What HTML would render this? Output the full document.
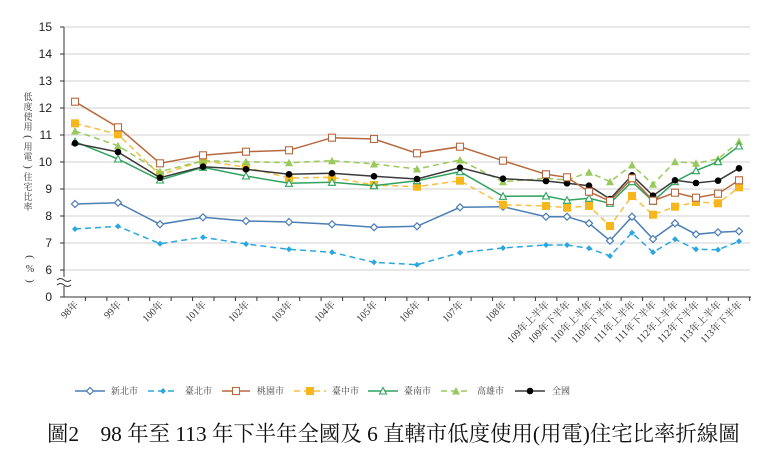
<!DOCTYPE html>
<html><head><meta charset="utf-8"><style>
html,body{margin:0;padding:0;background:#fff;}
svg{display:block;font-family:"Liberation Serif","Noto Serif CJK SC","Noto Sans CJK TC",serif;}
</style></head><body>
<svg width="780" height="461" viewBox="0 0 780 461" xmlns="http://www.w3.org/2000/svg">
<defs>
<marker id="mA" markerUnits="userSpaceOnUse" markerWidth="10" markerHeight="10" refX="5" refY="5" overflow="visible"><path d="M5 1.5L8.5 5L5 8.5L1.5 5Z" fill="#fff" stroke="#4a7eb5" stroke-width="1.2"/></marker>
<marker id="mB" markerUnits="userSpaceOnUse" markerWidth="10" markerHeight="10" refX="5" refY="5" overflow="visible"><path d="M5 2L8 5L5 8L2 5Z" fill="#2aa7de"/></marker>
<marker id="mC" markerUnits="userSpaceOnUse" markerWidth="10" markerHeight="10" refX="5" refY="5" overflow="visible"><rect x="1.5" y="1.5" width="7" height="7" fill="#fff" stroke="#b8693f" stroke-width="1.1"/></marker>
<marker id="mD" markerUnits="userSpaceOnUse" markerWidth="10" markerHeight="10" refX="5" refY="5" overflow="visible"><rect x="1" y="1" width="8" height="8" fill="#f6b61c"/></marker>
<marker id="mE" markerUnits="userSpaceOnUse" markerWidth="10" markerHeight="10" refX="5" refY="5" overflow="visible"><path d="M5 1.5L8.5 8L1.5 8Z" fill="#fff" stroke="#2fa35e" stroke-width="1.1"/></marker>
<marker id="mF" markerUnits="userSpaceOnUse" markerWidth="10" markerHeight="10" refX="5" refY="5" overflow="visible"><path d="M5 1L9 8.5L1 8.5Z" fill="#98c95a"/></marker>
<marker id="mG" markerUnits="userSpaceOnUse" markerWidth="10" markerHeight="10" refX="5" refY="5" overflow="visible"><circle cx="5" cy="5" r="3.3" fill="#000"/></marker>
</defs>
<g stroke="#d9d9d9" stroke-width="1.2">
<line x1="64" x2="750" y1="27" y2="27"/><line x1="64" x2="750" y1="54" y2="54"/><line x1="64" x2="750" y1="81" y2="81"/><line x1="64" x2="750" y1="108" y2="108"/><line x1="64" x2="750" y1="135" y2="135"/><line x1="64" x2="750" y1="162" y2="162"/><line x1="64" x2="750" y1="189" y2="189"/><line x1="64" x2="750" y1="216" y2="216"/><line x1="64" x2="750" y1="243" y2="243"/><line x1="64" x2="750" y1="270" y2="270"/>
</g>
<g stroke="#333" stroke-width="1">
<line x1="64" y1="27" x2="64" y2="297"/><line x1="64" y1="297" x2="751" y2="297"/>
<line x1="60" x2="64" y1="27" y2="27"/><line x1="60" x2="64" y1="54" y2="54"/><line x1="60" x2="64" y1="81" y2="81"/><line x1="60" x2="64" y1="108" y2="108"/><line x1="60" x2="64" y1="135" y2="135"/><line x1="60" x2="64" y1="162" y2="162"/><line x1="60" x2="64" y1="189" y2="189"/><line x1="60" x2="64" y1="216" y2="216"/><line x1="60" x2="64" y1="243" y2="243"/><line x1="60" x2="64" y1="270" y2="270"/><line x1="60" x2="64" y1="297" y2="297"/>
</g>
<g stroke="#333" stroke-width="1">
<path d="M85.4 297v4M106.9 297v4M128.3 297v4M149.7 297v4M171.1 297v4M192.6 297v4M214 297v4M235.4 297v4M256.9 297v4M278.3 297v4M299.7 297v4M321.1 297v4M342.6 297v4M364 297v4M385.4 297v4M406.9 297v4M428.3 297v4M449.7 297v4M471.1 297v4M492.6 297v4M514 297v4M535.4 297v4M556.9 297v4M578.3 297v4M599.7 297v4M621.1 297v4M642.6 297v4M664 297v4M685.4 297v4M706.9 297v4M728.3 297v4M749.7 297v4"/>
</g>
<rect x="57" y="277" width="14" height="9" fill="#fff"/>
<path d="M57 280q3.5-3 7 0t7 0M57 285q3.5-3 7 0t7 0" fill="none" stroke="#333" stroke-width="1"/>
<g font-size="12" fill="#222" text-anchor="end" font-family="Liberation Sans,sans-serif">
<text x="52" y="31">15</text><text x="52" y="58">14</text><text x="52" y="85">13</text><text x="52" y="112">12</text><text x="52" y="139">11</text><text x="52" y="166">10</text><text x="52" y="193">9</text><text x="52" y="220">8</text><text x="52" y="247">7</text><text x="52" y="274">6</text><text x="52" y="301">0</text>
</g>
<g font-size="9" fill="#333" text-anchor="middle">
<text x="28" y="100">低</text><text x="28" y="110">度</text><text x="28" y="120">使</text><text x="28" y="130">用</text><text x="28" y="140" font-size="11" transform="rotate(90 28 137)">(</text><text x="28" y="150">用</text><text x="28" y="160">電</text><text x="28" y="170" font-size="11" transform="rotate(90 28 167)">)</text><text x="28" y="180">住</text><text x="28" y="190">宅</text><text x="28" y="200">比</text><text x="28" y="210">率</text>
<text x="30" y="260" font-size="11" transform="rotate(90 30 257)">(</text><text x="30" y="272" font-size="10">%</text><text x="30" y="284" font-size="11" transform="rotate(90 30 281)">)</text>
</g>
<g font-size="10" fill="#333" text-anchor="end">
<text transform="translate(79,305) rotate(-45)">98年</text>
<text transform="translate(122,305) rotate(-45)">99年</text>
<text transform="translate(164,305) rotate(-45)">100年</text>
<text transform="translate(207,305) rotate(-45)">101年</text>
<text transform="translate(250,305) rotate(-45)">102年</text>
<text transform="translate(293,305) rotate(-45)">103年</text>
<text transform="translate(336,305) rotate(-45)">104年</text>
<text transform="translate(378,305) rotate(-45)">105年</text>
<text transform="translate(421,305) rotate(-45)">106年</text>
<text transform="translate(464,305) rotate(-45)">107年</text>
<text transform="translate(507,305) rotate(-45)">108年</text>
<text transform="translate(550,305) rotate(-45)">109年上半年</text>
<text transform="translate(571,305) rotate(-45)">109年下半年</text>
<text transform="translate(593,305) rotate(-45)">110年上半年</text>
<text transform="translate(614,305) rotate(-45)">110年下半年</text>
<text transform="translate(636,305) rotate(-45)">111年上半年</text>
<text transform="translate(657,305) rotate(-45)">111年下半年</text>
<text transform="translate(679,305) rotate(-45)">112年上半年</text>
<text transform="translate(700,305) rotate(-45)">112年下半年</text>
<text transform="translate(722,305) rotate(-45)">113年上半年</text>
<text transform="translate(743,305) rotate(-45)">113年下半年</text>
</g>
<g fill="none" stroke-width="1.5">
<polyline stroke="#2aa7de" stroke-dasharray="6,4" marker-start="url(#mB)" marker-mid="url(#mB)" marker-end="url(#mB)" points="75,229 118,226.3 160,243.7 203,237.3 246,244 289,249.3 332,252.3 374,262.3 417,264.7 460,252.7 503,248 546,245 567,245 589,248.3 610,256 632,232.7 653,252.3 675,239.3 696,249.3 718,249.7 739,241.3"/>
<polyline stroke="#4a7eb5" marker-start="url(#mA)" marker-mid="url(#mA)" marker-end="url(#mA)" points="75,204 118,202.7 160,224.3 203,217.3 246,221 289,222 332,224.3 374,227.3 417,226.3 460,207.3 503,206.7 546,216.7 567,216.7 589,223.3 610,240.7 632,216.7 653,239 675,223.3 696,234.3 718,232.3 739,231.3"/>
<polyline stroke="#f6c040" stroke-dasharray="6,4" marker-start="url(#mD)" marker-mid="url(#mD)" marker-end="url(#mD)" points="75,123.3 118,134.3 160,175 203,160.7 246,167.3 289,178 332,177.3 374,185 417,186.7 460,180.7 503,204.7 546,206 567,207.7 589,206 610,226 632,196 653,214.7 675,206.7 696,202 718,203.3 739,187.3"/>
<polyline stroke="#98c95a" stroke-dasharray="6,4" marker-start="url(#mF)" marker-mid="url(#mF)" marker-end="url(#mF)" points="75,131 118,145.7 160,171.7 203,160.7 246,161.7 289,162.7 332,160.7 374,164 417,169 460,160 503,181.7 546,178.3 567,180 589,172.3 610,181.7 632,165 653,184.3 675,161.7 696,163.3 718,159 739,141.7"/>
<polyline stroke="#2fa35e" marker-start="url(#mE)" marker-mid="url(#mE)" marker-end="url(#mE)" points="75,141.7 118,159 160,180 203,167.3 246,176 289,183.3 332,182.3 374,185.7 417,180.7 460,171.7 503,196.3 546,196 567,200.3 589,198.3 610,203.3 632,181.7 653,201.3 675,181.7 696,170.7 718,161.7 739,146"/>
<polyline stroke="#3a3a3a" marker-start="url(#mG)" marker-mid="url(#mG)" marker-end="url(#mG)" points="75,143.3 118,152 160,177.7 203,166.7 246,169.3 289,174.3 332,173.3 374,176.3 417,179 460,167.7 503,178.7 546,181 567,183.3 589,185.7 610,199 632,175.3 653,195.7 675,180.3 696,183 718,180.7 739,168.3"/>
<polyline stroke="#b8693f" marker-start="url(#mC)" marker-mid="url(#mC)" marker-end="url(#mC)" points="75,101.7 118,127.3 160,163.3 203,155.3 246,151.7 289,150.3 332,137.7 374,139 417,153.3 460,146.7 503,160.7 546,174.3 567,177.3 589,191.7 610,201 632,178.3 653,200.7 675,192.7 696,197.7 718,193.7 739,180.3"/>
</g>
<g fill="none" stroke-width="1.5">
<polyline stroke="#4a7eb5" marker-mid="url(#mA)" points="75,391 90,391 105,391"/>
<polyline stroke="#2aa7de" stroke-dasharray="6,4" marker-mid="url(#mB)" points="148,391 163,391 178,391"/>
<polyline stroke="#b8693f" marker-mid="url(#mC)" points="222,391 236,391 250,391"/>
<polyline stroke="#f6c040" stroke-dasharray="6,4" marker-mid="url(#mD)" points="294,391 310,391 326,391"/>
<polyline stroke="#2fa35e" marker-mid="url(#mE)" points="368,391 383,391 398,391"/>
<polyline stroke="#98c95a" stroke-dasharray="6,4" marker-mid="url(#mF)" points="441,391 456,391 471,391"/>
<polyline stroke="#3a3a3a" marker-mid="url(#mG)" points="515,391 530,391 545,391"/>
</g>
<g font-size="9" fill="#444">
<text x="111" y="394">新北市</text><text x="185" y="394">臺北市</text><text x="257" y="394">桃園市</text><text x="332" y="394">臺中市</text><text x="404" y="394">臺南市</text><text x="477" y="394">高雄市</text><text x="552" y="394">全國</text>
</g>
<text x="47" y="441" font-size="21.4" fill="#111">圖2　98 年至 113 年下半年全國及 6 直轄市低度使用(用電)住宅比率折線圖</text>
</svg>
</body></html>
